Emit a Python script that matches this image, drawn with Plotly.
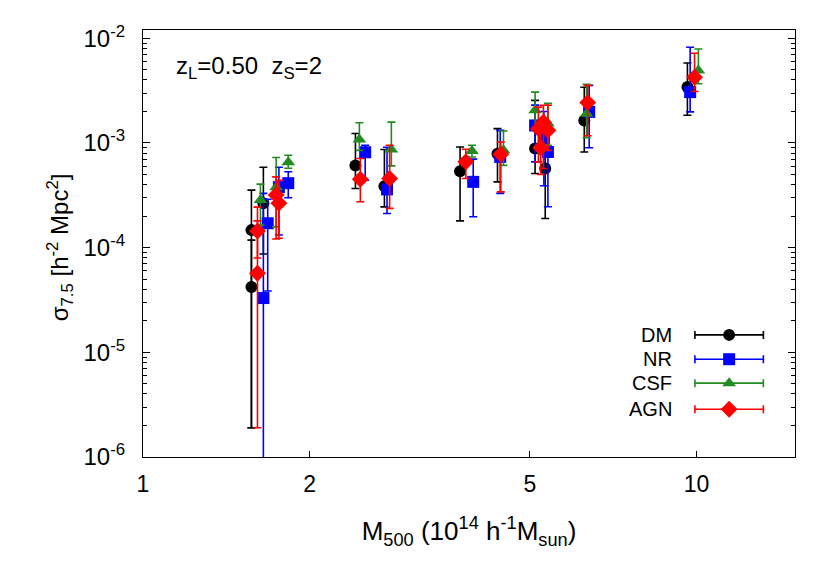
import plotly.graph_objects as go

# halo mass (1e14 h^-1 Msun), sigma_7.5 and the upper / lower ends of each error bar
dm_mass = [1.57, 1.57, 1.65, 2.42, 2.73, 3.74, 4.37, 5.11, 5.33, 6.27, 9.63]
dm_sigma = [1.47e-4, 4.2e-5, 2.66e-4, 6.1e-4, 3.86e-4, 5.37e-4, 7.9e-4, 8.85e-4, 5.7e-4, 1.64e-3, 3.42e-3]
dm_hi = [3.54e-4, 1.18e-4, 5.86e-4, 1.23e-3, 8.65e-4, 9.16e-4, 1.37e-3, 2.55e-3, 1.06e-3, 3.4e-3, 5.8e-3]
dm_lo = [1.9e-6, 1.9e-6, 8.7e-5, 3.67e-4, 2.45e-4, 1.8e-4, 4.25e-4, 5.1e-4, 1.9e-4, 8.2e-4, 1.84e-3]

nr_mass = [1.65, 1.68, 1.76, 1.83, 2.52, 2.76, 3.95, 4.42, 5.11, 5.30, 5.39, 6.40, 9.74]
nr_sigma = [3.3e-5, 1.71e-4, 3.78e-4, 4.13e-4, 8.15e-4, 3.6e-4, 4.25e-4, 7.36e-4, 1.47e-3, 1.1e-3, 8.2e-4, 1.98e-3, 3.06e-3]
nr_hi = [3.3e-4, 2.9e-4, 5.86e-4, 5.3e-4, 9.5e-4, 9.1e-4, 7.0e-4, 1.32e-3, 2.3e-3, 2.0e-3, 1.5e-3, 3.55e-3, 8.2e-3]
nr_lo = [5e-7, 3.85e-5, 1.32e-4, 3.0e-4, 4.4e-4, 2.12e-4, 1.97e-4, 3.3e-4, 6.6e-4, 3.9e-4, 2.46e-4, 9.0e-4, 1.98e-3]

csf_mass = [1.63, 1.74, 1.83, 2.46, 2.81, 3.93, 4.48, 5.11, 5.39, 6.33, 10.08]
csf_sigma = [2.85e-4, 3.78e-4, 6.55e-4, 1.08e-3, 8.65e-4, 8.4e-4, 8.5e-4, 2.05e-3, 1.53e-3, 1.9e-3, 4.93e-3]
csf_hi = [4.04e-4, 7.26e-4, 7.63e-4, 1.56e-3, 1.58e-3, 9.5e-4, 1.3e-3, 3.06e-3, 2.39e-3, 3.63e-3, 7.9e-3]
csf_lo = [1.64e-4, 1.58e-4, 5.74e-4, 8.5e-4, 6.04e-4, 7.35e-4, 6.1e-4, 1.32e-3, 9.5e-4, 1.12e-3, 3.68e-3]

agn_mass = [1.61, 1.61, 1.74, 1.76, 2.47, 2.79, 3.83, 4.43, 5.18, 5.23, 5.29, 5.39, 6.36, 9.92]
agn_sigma = [1.44e-4, 5.7e-5, 3.18e-4, 2.66e-4, 4.5e-4, 4.58e-4, 6.6e-4, 7.8e-4, 1.37e-3, 9.0e-4, 1.58e-3, 1.32e-3, 2.43e-3, 4.25e-3]
agn_hi = [2.44e-4, 1.8e-4, 4.74e-4, 4.4e-4, 7.1e-4, 9.5e-4, 8.7e-4, 1.02e-3, 2.2e-3, 1.3e-3, 2.29e-3, 2.29e-3, 3.55e-3, 7.2e-3]
agn_lo = [7.96e-5, 1.9e-6, 1.21e-4, 1.23e-4, 2.74e-4, 2.37e-4, 4.58e-4, 3.41e-4, 6.6e-4, 5.0e-4, 5.7e-4, 8.5e-4, 1.17e-3, 3.1e-3]

x_ticks = [1, 2, 5, 10]
y_ticks = [1e-6, 1e-5, 1e-4, 1e-3, 1e-2]
y_ticktext = ["10<sup>-6</sup>", "10<sup>-5</sup>", "10<sup>-4</sup>", "10<sup>-3</sup>", "10<sup>-2</sup>"]
y_minor = [m * 10.0 ** e for e in range(-6, -1) for m in range(2, 10)]

FONT = "Liberation Sans, Arial, sans-serif"

series = [
    ("DM", dm_mass, dm_sigma, dm_hi, dm_lo, "black", "circle", 12),
    ("NR", nr_mass, nr_sigma, nr_hi, nr_lo, "#0000ff", "square", 12),
    ("CSF", csf_mass, csf_sigma, csf_hi, csf_lo, "#228b22", "triangle-up", 12),
    ("AGN", agn_mass, agn_sigma, agn_hi, agn_lo, "#ff0000", "diamond", 13),
]

fig = go.Figure()

for name, mass, sig, hi, lo, color, symbol, size in series:
    fig.add_trace(
        go.Scatter(
            x=mass,
            y=sig,
            mode="markers",
            name=name,
            marker={"color": color, "symbol": symbol, "size": size},
            error_y={
                "type": "data",
                "symmetric": False,
                "array": [h - s for h, s in zip(hi, sig)],
                "arrayminus": [s - l for s, l in zip(sig, lo)],
                "color": color,
                "thickness": 1.6,
                "width": 4,
            },
            showlegend=False,
        )
    )

# hand-made key in the lower right, like the original
key_rows = [0.286, 0.229, 0.173, 0.112]
for (name, _, _, _, _, color, symbol, size), row in zip(series, key_rows):
    fig.add_trace(
        go.Scatter(
            x=[0.899],
            y=[row],
            xaxis="x2",
            yaxis="y2",
            mode="markers",
            marker={"color": color, "symbol": symbol, "size": size},
            error_x={
                "type": "constant",
                "value": 0.0525,
                "color": color,
                "thickness": 1.6,
                "width": 4,
            },
            showlegend=False,
            hoverinfo="skip",
        )
    )
    fig.add_annotation(
        x=0.814, y=row, xref="paper", yref="paper",
        text=name, showarrow=False, xanchor="right", yanchor="middle",
        font={"size": 20, "color": "black", "family": FONT},
    )

fig.add_annotation(
    x=0.048, y=0.913, xref="paper", yref="paper",
    text="z<sub>L</sub>=0.50  z<sub>S</sub>=2", showarrow=False,
    xanchor="left", yanchor="middle",
    font={"size": 24, "color": "black", "family": FONT},
)

# y title as a rotated annotation so it sits where the original has it
fig.add_annotation(
    x=-0.128, y=0.49, xref="paper", yref="paper",
    text="σ<sub>7.5</sub> [h<sup>-2</sup> Mpc<sup>2</sup>]", showarrow=False,
    textangle=-90, xanchor="center", yanchor="middle",
    font={"size": 24, "color": "black", "family": FONT},
)

# the page body adds an 8px offset, so the figure is 8px smaller and shifted
fig.update_layout(
    width=814,
    height=568,
    margin={"l": 135, "r": 27, "t": 22, "b": 119},
    paper_bgcolor="white",
    plot_bgcolor="white",
    font={"family": FONT, "size": 22, "color": "black"},
    xaxis={
        "type": "log",
        "range": [0, 1.178],
        "tickvals": x_ticks,
        "ticktext": [str(v) for v in x_ticks],
        "ticks": "inside",
        "ticklen": 6,
        "tickcolor": "black",
        "tickfont": {"size": 23},
        "ticklabelstandoff": 6,
        "showline": True,
        "linecolor": "black",
        "linewidth": 1.2,
        "mirror": True,
        "showgrid": False,
        "zeroline": False,
        "title": {"text": "M<sub>500</sub> (10<sup>14</sup> h<sup>-1</sup>M<sub>sun</sub>)", "standoff": 26},
    },
    yaxis={
        "type": "log",
        "range": [-6, -1.921],
        "tickvals": y_ticks,
        "ticktext": y_ticktext,
        "ticks": "inside",
        "ticklen": 7,
        "tickcolor": "black",
        "tickfont": {"size": 24},
        "ticklabelstandoff": 12,
        "minor": {"tickmode": "array", "tickvals": y_minor, "ticks": "inside", "ticklen": 4, "tickcolor": "black", "showgrid": False},
        "showline": True,
        "linecolor": "black",
        "linewidth": 1.2,
        "mirror": "ticks",
        "showgrid": False,
        "zeroline": False,
    },
    xaxis2={"overlaying": "x", "range": [0, 1], "visible": False},
    yaxis2={"overlaying": "y", "range": [0, 1], "visible": False},
)

fig.write_html("out.html")
